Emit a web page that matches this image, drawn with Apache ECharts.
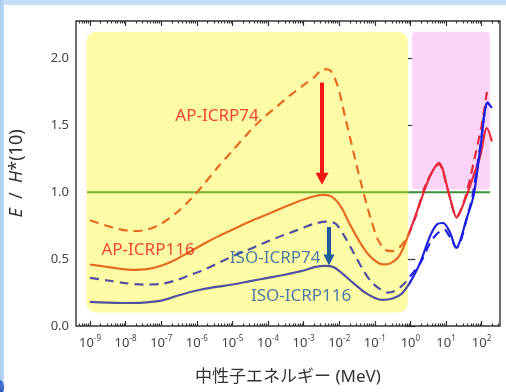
<!DOCTYPE html>
<html>
<head>
<meta charset="utf-8">
<script src="https://cdn.jsdelivr.net/npm/echarts@6/dist/echarts.min.js"></script>
<style>
  html, body { margin: 0; padding: 0; width: 506px; height: 392px; overflow: hidden;
    background: linear-gradient(90deg, #a8cbee 0, #c4dff7 5px, #c4dff7 100%); }
  #sheet { position: absolute; left: 4px; top: 5px; width: 502px; height: 387px; background: #fff; }
  #chart { width: 502px; height: 387px; }
  #dot { position: absolute; left: -5px; top: 380px; width: 9px; height: 15px; border-radius: 50%;
    background: radial-gradient(circle at 70% 40%, #4a78d8, #1d3f9c); }
</style>
</head>
<body>
<div id="sheet"><div id="chart"></div></div>
<div id="dot"></div>
<script>
// Neutron energy is given as log10(E / MeV); values are E / H*(10).
const ap74LogE  = [-9.0, -8.6, -8.2, -7.8, -7.4, -7.0, -6.6, -6.2, -5.8, -5.4, -5.0, -4.6, -4.2, -3.8, -3.4, -3.0, -2.7, -2.45, -2.25, -2.05, -1.84, -1.6, -1.35, -1.1, -0.9, -0.7, -0.5, -0.3, -0.1, 0.15, 0.45, 0.8, 1.05, 1.3, 1.55, 1.8, 2.0, 2.15];
const ap74Ratio = [0.79, 0.755, 0.725, 0.71, 0.72, 0.765, 0.84, 0.94, 1.06, 1.19, 1.31, 1.43, 1.54, 1.63, 1.72, 1.80, 1.86, 1.92, 1.91, 1.80, 1.57, 1.30, 1.03, 0.79, 0.64, 0.57, 0.56, 0.59, 0.66, 0.82, 1.07, 1.21, 1.02, 0.82, 0.97, 1.25, 1.50, 1.75];

const ap116LogE  = [-9.0, -8.6, -8.2, -7.8, -7.4, -7.0, -6.6, -6.2, -5.8, -5.4, -5.0, -4.6, -4.2, -3.8, -3.4, -3.0, -2.7, -2.45, -2.2, -1.95, -1.7, -1.45, -1.2, -0.95, -0.77, -0.55, -0.3, 0.0, 0.27, 0.55, 0.8, 1.1, 1.3, 1.53, 1.73, 1.96, 2.15, 2.29];
const ap116Ratio = [0.46, 0.445, 0.43, 0.42, 0.425, 0.45, 0.495, 0.555, 0.615, 0.67, 0.72, 0.77, 0.815, 0.86, 0.905, 0.945, 0.97, 0.98, 0.965, 0.89, 0.76, 0.64, 0.54, 0.48, 0.46, 0.47, 0.53, 0.72, 0.92, 1.12, 1.22, 0.97, 0.81, 0.94, 1.09, 1.27, 1.48, 1.38];

const iso74LogE  = [-9.0, -8.5, -8.0, -7.5, -7.0, -6.6, -6.2, -5.8, -5.4, -5.0, -4.6, -4.2, -3.8, -3.4, -3.0, -2.7, -2.35, -2.1, -1.85, -1.6, -1.33, -1.1, -0.85, -0.66, -0.45, -0.2, 0.05, 0.3, 0.55, 0.75, 0.95, 1.1, 1.3, 1.6, 1.75, 1.95, 2.17, 2.29];
const iso74Ratio = [0.36, 0.34, 0.32, 0.31, 0.315, 0.34, 0.38, 0.42, 0.47, 0.52, 0.565, 0.61, 0.655, 0.695, 0.735, 0.765, 0.78, 0.765, 0.67, 0.55, 0.42, 0.33, 0.275, 0.25, 0.26, 0.31, 0.39, 0.48, 0.62, 0.69, 0.72, 0.67, 0.585, 0.82, 0.98, 1.32, 1.67, 1.63];

const iso116LogE  = [-9.0, -8.5, -8.0, -7.5, -7.0, -6.5, -6.0, -5.5, -5.0, -4.5, -4.0, -3.5, -3.0, -2.7, -2.4, -2.15, -1.9, -1.6, -1.3, -1.0, -0.77, -0.5, -0.25, 0.0, 0.27, 0.55, 0.75, 0.92, 1.11, 1.28, 1.6, 1.78, 1.96, 2.17, 2.29];
const iso116Ratio = [0.18, 0.175, 0.172, 0.175, 0.19, 0.23, 0.265, 0.29, 0.31, 0.335, 0.36, 0.385, 0.415, 0.44, 0.45, 0.44, 0.39, 0.32, 0.255, 0.21, 0.195, 0.205, 0.24, 0.33, 0.47, 0.67, 0.76, 0.77, 0.70, 0.585, 0.82, 0.98, 1.32, 1.67, 1.63];

// Reference level E / H*(10) = 1
const unityLogE  = [-9.08, 2.24];
const unityRatio = [1.0, 1.0];

// Shaded energy bands: [logE from, logE to, ratio from, ratio to]
const bandLow  = [-9.1, -0.07, 0.1, 2.2];
const bandHigh = [0.05, 2.24, 1.02, 2.2];

// Axis ticks
const decadeTicks = [-9, -8, -7, -6, -5, -4, -3, -2, -1, 0, 1, 2];
const ratioTicks = [0, 0.5, 1.0, 1.5, 2.0];

const X_MIN = -9.393, X_MAX = 2.517;
const Y_MIN = 0, Y_MAX = 2.28;

const minorTicks = [];
for (let d = -10; d <= 2; d++) {
  for (let k = 2; k <= 9; k++) {
    const v = d + Math.log10(k);
    if (v > X_MIN && v < X_MAX) minorTicks.push(v);
  }
}

const zip = (xs, ys) => xs.map((x, i) => [x, ys[i]]);

const FONT = '"Noto Sans", "Noto Sans CJK JP", sans-serif';
const ORANGE = '#e56b24', RED = '#e62a3c', SLATE = '#51529c', BLUE = '#1f1fe0';
const GREEN_IN = '#72b032', GREEN_OUT = '#3b8d3b';
const SPLIT_AT = bandLow[1];   // colour changes where the low-energy band ends

// Horizontal two-colour stroke, switching at SPLIT_AT (x axis is linear in log10 E)
function splitColor(xs, left, right) {
  const x0 = Math.min(...xs), x1 = Math.max(...xs);
  const f = Math.min(1, Math.max(0, (SPLIT_AT - x0) / (x1 - x0)));
  return new echarts.graphic.LinearGradient(0, 0, 1, 0, [
    { offset: 0, color: left }, { offset: f, color: left },
    { offset: f, color: right }, { offset: 1, color: right }
  ]);
}

const bandFills = ['#fdfba6', '#fbd4f6'];
const bandRadius = [10, 4];

function xAxisBase(pos, ticks, len, labels) {
  return {
    type: 'value', position: pos, min: X_MIN, max: X_MAX,
    axisLine: { show: false },
    splitLine: { show: false },
    axisTick: { show: true, inside: true, length: len, customValues: ticks,
      lineStyle: { color: '#333', width: 1.2 } },
    axisLabel: labels ? {
      show: true, customValues: decadeTicks, margin: 9,
      formatter: v => '{b|10}{s|' + Math.round(v) + '}',
      rich: {
        b: { fontSize: 13, color: '#444', fontFamily: FONT, lineHeight: 16 },
        s: { fontSize: 8, color: '#444', fontFamily: FONT, lineHeight: 9, verticalAlign: 'top' }
      }
    } : { show: false }
  };
}

function yAxisBase(pos, labels) {
  return {
    type: 'value', position: pos, min: Y_MIN, max: Y_MAX,
    axisLine: { show: false },
    splitLine: { show: false },
    axisTick: { show: true, inside: true, length: 5, customValues: ratioTicks,
      lineStyle: { color: '#333', width: 1.2 } },
    axisLabel: labels ? {
      show: true, customValues: ratioTicks, margin: 7,
      formatter: v => v.toFixed(1),
      fontSize: 13, color: '#444', fontFamily: FONT
    } : { show: false }
  };
}

const yMain = yAxisBase('left', true);
yMain.name = '{i|E}  /  {i|H}*(10)';
yMain.nameLocation = 'middle';
yMain.nameGap = 50;
yMain.nameTextStyle = {
  fontSize: 18, color: '#333', fontFamily: FONT,
  rich: { i: { fontSize: 18, color: '#333', fontFamily: FONT, fontStyle: 'italic' } }
};

const xMain = xAxisBase('bottom', decadeTicks, 5, true);
xMain.name = '中性子エネルギー (MeV)';
xMain.nameLocation = 'middle';
xMain.nameGap = 43;
xMain.nameTextStyle = { fontSize: 17, color: '#333', fontFamily: FONT };

function curve(name, xs, ys, dashed, left, right) {
  return {
    name, type: 'line', xAxisIndex: 0, yAxisIndex: 0,
    data: zip(xs, ys), smooth: 0.3, showSymbol: false, symbol: 'none', z: 4,
    lineStyle: { width: 2.2, type: dashed ? [9, 6] : 'solid', color: splitColor(xs, left, right) },
    silent: true
  };
}

const option = {
  animation: false,
  grid: { left: 72, right: 6, top: 16, bottom: 66, show: true, outerBoundsMode: 'none',
          containLabel: false,
          borderColor: '#333', borderWidth: 1.4, backgroundColor: 'transparent' },
  xAxis: [
    xMain,
    xAxisBase('bottom', minorTicks, 2.5, false),
    xAxisBase('top', decadeTicks, 5, false),
    xAxisBase('top', minorTicks, 2.5, false)
  ],
  yAxis: [yMain, yAxisBase('right', false)],
  series: [
    {
      type: 'custom', xAxisIndex: 0, yAxisIndex: 0, z: 1, silent: true,
      data: [bandLow, bandHigh],
      renderItem: (params, api) => {
        const p0 = api.coord([api.value(0), api.value(3)]);
        const p1 = api.coord([api.value(1), api.value(2)]);
        return {
          type: 'rect',
          shape: { x: p0[0], y: p0[1], width: p1[0] - p0[0], height: p1[1] - p0[1],
                   r: bandRadius[params.dataIndex] },
          style: { fill: bandFills[params.dataIndex] }
        };
      }
    },
    {
      type: 'line', xAxisIndex: 0, yAxisIndex: 0,
      data: zip(unityLogE, unityRatio), showSymbol: false, symbol: 'none',
      lineStyle: { width: 2, color: splitColor(unityLogE, GREEN_IN, GREEN_OUT) }, z: 3, silent: true
    },
    curve('AP-ICRP74', ap74LogE, ap74Ratio, true, ORANGE, RED),
    curve('AP-ICRP116', ap116LogE, ap116Ratio, false, ORANGE, RED),
    curve('ISO-ICRP74', iso74LogE, iso74Ratio, true, SLATE, BLUE),
    curve('ISO-ICRP116', iso116LogE, iso116Ratio, false, SLATE, BLUE),
    {
      type: 'scatter', xAxisIndex: 0, yAxisIndex: 0, symbolSize: 1, z: 6, silent: true,
      itemStyle: { color: 'rgba(0,0,0,0)' },
      data: [
        { value: [-5.43, 1.566], label: { formatter: 'AP-ICRP74', color: '#f01818' } },
        { value: [-7.37, 0.57], label: { formatter: 'AP-ICRP116', color: '#f01818' } },
        { value: [-3.80, 0.51], label: { formatter: 'ISO-ICRP74', color: '#1f5c9c' } },
        { value: [-3.07, 0.225], label: { formatter: 'ISO-ICRP116', color: '#1f5c9c' } }
      ],
      label: { show: true, position: 'inside', fontSize: 17, fontFamily: FONT },
      markLine: {
        silent: true, animation: false,
        symbol: ['none', 'triangle'],
        label: { show: false },
        emphasis: { disabled: true },
        data: [
          [ { coord: [-2.483, 1.82], symbolSize: 1 },
            { coord: [-2.483, 1.10], symbolSize: [13, 12],
              lineStyle: { color: '#f51515', width: 4, type: 'solid' } } ],
          [ { coord: [-2.287, 0.74], symbolSize: 1 },
            { coord: [-2.287, 0.494], symbolSize: [11, 11],
              lineStyle: { color: '#1f5c9c', width: 4, type: 'solid' } } ]
        ]
      }
    }
  ]
};

const chart = echarts.init(document.getElementById('chart'), null, { renderer: 'canvas' });
chart.setOption(option);
</script>
</body>
</html>
